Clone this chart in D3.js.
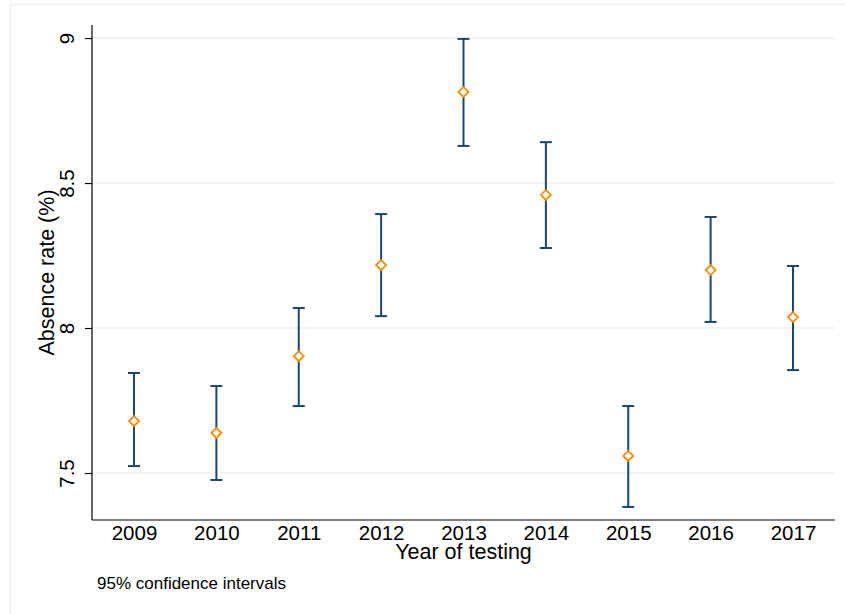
<!DOCTYPE html>
<html>
<head>
<meta charset="utf-8">
<script src="https://cdn.jsdelivr.net/npm/d3@7"></script>
<style>
body { margin: 0; background: #fff; }
text { font-family: Arial, "Liberation Sans", sans-serif; fill: #000; }
</style>
</head>
<body>
<div id="chart"></div>
<script>
let years = [2009, 2010, 2011, 2012, 2013, 2014, 2015, 2016, 2017];
let rate = [7.679, 7.638, 7.903, 8.217, 8.814, 8.459, 7.559, 8.200, 8.038];
let upper = [7.845, 7.800, 8.069, 8.393, 8.997, 8.641, 7.731, 8.383, 8.214];
let lower = [7.524, 7.476, 7.731, 8.041, 8.628, 8.276, 7.383, 8.021, 7.855];
let yTicks = [7.5, 8, 8.5, 9];

let data = years.map(function(y, i) {
    return {year: y, rate: rate[i], hi: upper[i], lo: lower[i]};
});

let width = 845, height = 614;
let margin = {top: 25, right: 10, bottom: 94, left: 92};

let svg = d3.select("#chart").append("svg")
    .attr("width", width)
    .attr("height", height);

// outer graph region frame
svg.append("rect")
    .attr("x", 10.5).attr("y", 4.5)
    .attr("width", width).attr("height", height)
    .attr("fill", "none")
    .attr("stroke", "#eaf2f3")
    .attr("stroke-width", 1.5);

let x = d3.scaleLinear()
    .domain([2008.49, 2017.51])
    .range([margin.left, width - margin.right]);

let y = d3.scaleLinear()
    .domain([7.338, 9.045])
    .range([height - margin.bottom, margin.top]);

// gridlines
svg.selectAll(".grid")
    .data(yTicks)
    .enter().append("line")
    .attr("x1", margin.left)
    .attr("x2", width - margin.right)
    .attr("y1", d => y(d))
    .attr("y2", d => y(d))
    .attr("stroke", "#eaf2f3")
    .attr("stroke-width", 1.5);

// y axis
let yAxis = svg.append("g")
    .attr("transform", "translate(" + margin.left + ",0)")
    .call(d3.axisLeft(y).tickValues(yTicks).tickSize(7).tickPadding(11)
        .tickFormat(d3.format("")));
yAxis.select(".domain").attr("stroke", "#000").attr("stroke-width", 1.2)
    .attr("d", "M0," + y.range()[0] + "V" + y.range()[1]);
yAxis.selectAll(".tick line").attr("stroke", "#000").attr("stroke-width", 1.2);
yAxis.selectAll(".tick text")
    .attr("font-size", 20.5)
    .attr("x", 0).attr("y", 0)
    .attr("dy", null)
    .attr("text-anchor", "middle")
    .attr("transform", "translate(-18,0) rotate(-90)");

// x axis
let xAxis = svg.append("g")
    .attr("transform", "translate(0," + (height - margin.bottom) + ")")
    .call(d3.axisBottom(x).tickValues(years).tickSize(0).tickPadding(5.5)
        .tickFormat(d3.format("d")));
xAxis.select(".domain").attr("stroke", "#000").attr("stroke-width", 1.2)
    .attr("d", "M" + x.range()[0] + ",0H" + x.range()[1]);
xAxis.selectAll(".tick text").attr("font-size", 20.5);

// axis titles
svg.append("text")
    .attr("x", (margin.left + width - margin.right) / 2)
    .attr("y", 559)
    .attr("text-anchor", "middle")
    .attr("font-size", 21.5)
    .text("Year of testing");

svg.append("text")
    .attr("transform", "translate(54," + ((margin.top + height - margin.bottom) / 2) + ") rotate(-90)")
    .attr("text-anchor", "middle")
    .attr("font-size", 21.5)
    .text("Absence rate (%)");

svg.append("text")
    .attr("x", 97)
    .attr("y", 589)
    .attr("font-size", 17)
    .text("95% confidence intervals");

// error bars
let navy = "#1a476f";
let bars = svg.selectAll(".ci")
    .data(data)
    .enter().append("g");

bars.append("line")
    .attr("x1", d => x(d.year)).attr("x2", d => x(d.year))
    .attr("y1", d => y(d.lo)).attr("y2", d => y(d.hi))
    .attr("stroke", navy).attr("stroke-width", 2);
bars.append("line")
    .attr("x1", d => x(d.year) - 6).attr("x2", d => x(d.year) + 6)
    .attr("y1", d => y(d.hi)).attr("y2", d => y(d.hi))
    .attr("stroke", navy).attr("stroke-width", 2);
bars.append("line")
    .attr("x1", d => x(d.year) - 6).attr("x2", d => x(d.year) + 6)
    .attr("y1", d => y(d.lo)).attr("y2", d => y(d.lo))
    .attr("stroke", navy).attr("stroke-width", 2);

// hollow diamond markers
svg.selectAll(".pt")
    .data(data)
    .enter().append("path")
    .attr("d", d => {
        let cx = x(d.year), cy = y(d.rate), r = 5;
        return "M" + cx + "," + (cy - r) + "L" + (cx + r) + "," + cy +
            "L" + cx + "," + (cy + r) + "L" + (cx - r) + "," + cy + "Z";
    })
    .attr("fill", "#fff")
    .attr("stroke", "#ff8c00")
    .attr("stroke-width", 1.8);
</script>
</body>
</html>
